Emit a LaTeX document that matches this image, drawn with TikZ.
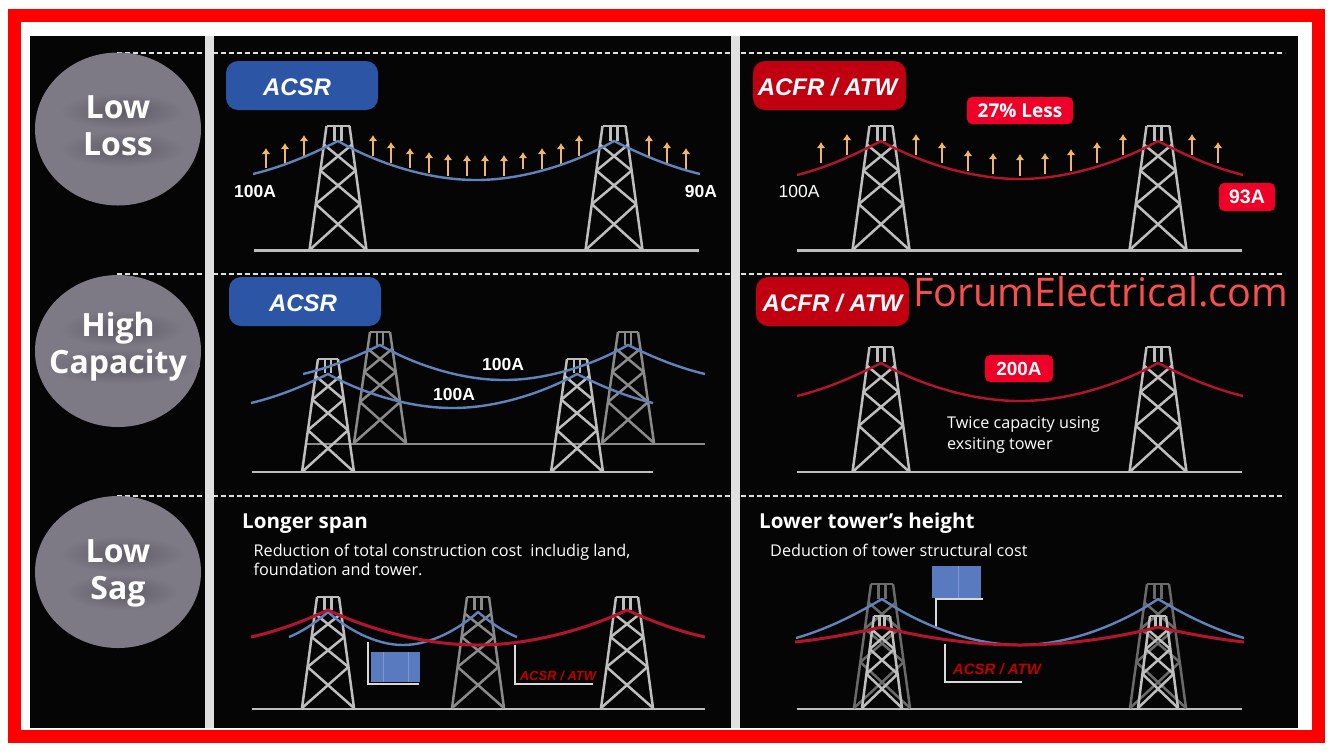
\documentclass[tikz,border=0pt]{standalone}
\usepackage{fontspec}
\setmainfont{Liberation Sans}
\newfontfamily\opensans{Open Sans}
\usetikzlibrary{arrows.meta,shapes.geometric}
\definecolor{bluetag}{HTML}{2C55A5}
\definecolor{redtag}{HTML}{C00010}
\definecolor{hottag}{HTML}{EE0028}
\definecolor{wireblue}{HTML}{6183BC}
\definecolor{wirered}{HTML}{B5142F}
\definecolor{heat}{HTML}{F0B56C}
\definecolor{disc}{HTML}{7D7A85}
\definecolor{discshadow}{HTML}{5E5B66}
\definecolor{steel}{HTML}{BEBEBE}
\definecolor{steeldim}{HTML}{8A8A8A}
\definecolor{steelfaint}{HTML}{6A6A6A}
\definecolor{brand}{HTML}{F8504F}
\definecolor{paneblue}{HTML}{5A7AC0}
\definecolor{panestripe}{HTML}{7F98CF}
\newcommand{\fs}[1]{\fontsize{#1}{#1}\selectfont}
\newcommand{\wirewidth}{2.4pt}
\newcommand{\tagstrut}{\rule{0pt}{20.4pt}}
\tikzset{
  frame dash/.style={draw=white!88!black,line width=1.6pt,dash pattern=on 5pt off 3pt},
  divider/.style={fill=white!88!black},
  disc node/.style={ellipse,fill=disc},
  disc text/.style={inner sep=0pt,align=center,text=white,font=\opensans\bfseries\fontsize{32}{37}\selectfont},
  tagbox/.style={rounded corners=12pt,minimum height=49pt,inner sep=0pt,text=white,font=\bfseries\itshape\fs{24}},
  acsr tag/.style={tagbox,fill=bluetag,minimum width=152pt},
  acfr tag/.style={tagbox,fill=redtag,minimum width=153pt},
  hot tag/.style={rounded corners=5pt,fill=hottag,inner sep=0pt,text=white},
  amp/.style={inner sep=0pt,text=white,font=\fs{17.5}},
  amp strong/.style={amp,font=\bfseries\fs{17.5}},
  heading/.style={inner sep=0pt,anchor=base west,text=white,font=\opensans\bfseries\fs{20.6}},
  body/.style={inner sep=0pt,anchor=base west,text=white,font=\opensans\fs{16.2}},
  conductor/.style={inner sep=0pt,text=red!75!black,font=\bfseries\itshape\fs{13}},
  leader/.style={draw=white!85!black,line width=1.5pt},
  ground/.style={line width=2.6pt},
  heatarrow/.style={draw=heat,line width=2.6pt,-{Latex[length=6pt,width=8.5pt]}},
}
% soft shadow under a word: cx, cy, half width
\newcommand{\softshade}[3]{\shade[inner color=discshadow,outer color=disc] (#1,#2) ellipse ({#3} and 18);}
% tower: cx, base y, top y, half base, half top, colour
\newcommand{\towr}[6]{%
  \begin{scope}[draw=#6,line width=2.5pt,line join=round]
    \pgfmathsetmacro{\hh}{#2-#3}
    \pgfmathsetmacro{\dd}{#4-#5}
    \draw ({#1-#5},#3) -- ({#1+#5},#3);
    \draw ({#1-#5},#3) -- ({#1-#4},#2);
    \draw ({#1+#5},#3) -- ({#1+#4},#2);
    \draw ({#1-#5*0.3},#3) -- ({#1-#5*0.3},{#3+\hh*0.12});
    \draw ({#1+#5*0.3},#3) -- ({#1+#5*0.3},{#3+\hh*0.12});
    \foreach \fa/\fb in {0.15/0.36,0.36/0.63,0.63/1}{
      \draw ({#1-#5-\dd*\fa},{#3+\hh*\fa}) -- ({#1+#5+\dd*\fb},{#3+\hh*\fb});
      \draw ({#1+#5+\dd*\fa},{#3+\hh*\fa}) -- ({#1-#5-\dd*\fb},{#3+\hh*\fb});
    }
  \end{scope}}
% wire: colour, x start, y start, x peak 1, y peak, x peak 2, y trough, x end
\newcommand{\wirelink}[8]{%
  \pgfmathsetmacro{\dl}{#4-#2}
  \pgfmathsetmacro{\rs}{#3-#5}
  \pgfmathsetmacro{\hs}{(#6-#4)/2}
  \pgfmathsetmacro{\ds}{#7-#5}
  \pgfmathsetmacro{\dr}{#8-#6}
  \draw[draw=#1,line width=\wirewidth,line join=round]
    (#2,#3) .. controls ({#2+\dl*0.43},{#3-\rs*0.27}) and ({#4-\dl*0.21},{#5+\rs*0.27}) .. (#4,#5)
    .. controls ({#4+\hs*0.24},{#5+\ds*0.49}) and ({#4+\hs*0.62},#7) .. ({#4+\hs},#7)
    .. controls ({#6-\hs*0.62},#7) and ({#6-\hs*0.24},{#5+\ds*0.49}) .. (#6,#5)
    .. controls ({#6+\dr*0.21},{#5+\rs*0.27}) and ({#8-\dr*0.43},{#3-\rs*0.27}) .. (#8,#3);}
\begin{document}
\begin{tikzpicture}[x=1pt,y=-1pt]
\useasboundingbox (0,0) rectangle (1332,753);
\fill[white] (0,0) rectangle (1332,753);
\fill[red] (8,9) rectangle (1325,743);
\fill[white] (21,22) rectangle (1312,730);
\fill[black!98!white] (30,36) rectangle (1298,728);
% row separators
\coordinate (d1a) at (117,53);  \coordinate (d1b) at (1285,53);
\coordinate (d2a) at (117,274); \coordinate (d2b) at (1285,274);
\coordinate (d3a) at (117,496); \coordinate (d3b) at (1285,496);
\draw[frame dash] (d1a) -- (d1b);
\draw[frame dash] (d2a) -- (d2b);
\draw[frame dash] (d3a) -- (d3b);
\fill[divider] (205,36) rectangle (214,728);
\fill[divider] (731,36) rectangle (740,728);
% discs
\node[disc node,minimum width=166pt,minimum height=153pt,inner sep=0pt] (discA) at (118,129) {};
\node[disc node,minimum width=166pt,minimum height=152pt,inner sep=0pt] (discB) at (118,351) {};
\node[disc node,minimum width=166pt,minimum height=152pt,inner sep=0pt] (discC) at (118,572) {};
\softshade{122}{111}{62}
\softshade{122}{149}{62}
\softshade{122}{329}{62}
\softshade{122}{366}{78}
\softshade{122}{554}{62}
\softshade{122}{592}{56}
\node[disc text] (tA) at (118,126) {Low\\Loss};
\node[disc text] (tB) at (118,347) {High\\Capacity};
\node[disc text] (tC) at (118,573) {Low\\Sag};
% tags
\node[acsr tag] (acsrA) at (302,85.5) {\tagstrut ACSR\hspace*{10pt}};
\node[acsr tag] (acsrB) at (305,301.5) {\tagstrut ACSR\hspace*{4pt}};
\node[acfr tag] (acfrA) at (829.5,85.5) {\tagstrut ACFR / ATW\hspace*{4pt}};
\node[acfr tag] (acfrB) at (832.5,301.5) {\tagstrut ACFR / ATW};
% ---------- row 1 left
\draw[steel,ground] (254,250.5) -- (699,250.5);
\towr{338}{250}{126}{28.5}{11.5}{steel}
\towr{614}{250}{126}{28.5}{11.5}{steel}
\foreach \x/\a/\b in {266/168/148,285/163/143,304/156/135,373/156/135,391/163/142,410/168/148,429/173/152,448/176/154,467/176/155,485/176/155,504/176/155,523/169/152,542/169/148,561/164/143,579/156/135,649/156/135,667/163/142,686/169/148}
  \draw[heatarrow] (\x,\a) -- (\x,\b);
\wirelink{wireblue}{253}{174}{338}{141}{614}{180}{700}
\node[amp strong] (la) at (255,191) {100A};
\node[amp strong] (lb) at (701,191) {90A};
% ---------- row 1 right
\draw[steel,ground] (797,250.5) -- (1242,250.5);
\towr{881}{250}{126}{28.5}{11.5}{steel}
\towr{1158}{250}{126}{28.5}{11.5}{steel}
\foreach \x/\a/\b in {821/163/142,847/155/134,916/155/134,942/163/142,968/171/150,993/174/153,1020/176/154,1045/174/153,1071/171/149,1097/163/142,1123/155/134,1192/155/134,1218/163/142}
  \draw[heatarrow] (\x,\a) -- (\x,\b);
\wirelink{wirered}{797}{175}{881}{141}{1158}{179}{1243}
\node[amp] (lc) at (799,191) {100A};
\node[hot tag,minimum width=106pt,minimum height=27pt,font=\opensans\bfseries\fs{19}] (less) at (1020,110.5) {27\% Less};
\node[hot tag,minimum width=56pt,minimum height=28pt,font=\bfseries\fs{19.5}] (ninety) at (1247,197) {93A};
% ---------- row 2 left
\draw[steeldim,line width=2.2pt] (305,444) -- (705,444);
\towr{380}{443}{332}{26}{10}{steeldim}
\towr{628}{443}{332}{26}{10}{steeldim}
\draw[steel,line width=2pt] (252,472) -- (653,472);
\towr{328}{472}{359}{26}{10}{steel}
\towr{577}{472}{359}{26}{10}{steel}
\wirelink{wireblue}{303}{374}{380}{345}{628}{380}{705}
\wirelink{wireblue}{251}{403}{328}{374}{577}{408}{653}
\node[amp strong] (ld) at (503,364) {100A};
\node[amp strong] (le) at (454,394) {100A};
% ---------- row 2 right
\draw[steel,line width=2pt] (797,472) -- (1242,472);
\towr{881}{472}{347}{28.5}{11.5}{steel}
\towr{1158}{472}{347}{28.5}{11.5}{steel}
\wirelink{wirered}{797}{396}{881}{363}{1158}{401}{1243}
\node[hot tag,minimum width=68pt,minimum height=27pt,font=\bfseries\fs{19}] (twohundred) at (1019,368.5) {200A};
\node[body] (twiceA) at (947,428) {Twice capacity using};
\node[body] (twiceB) at (947,449) {exsiting tower};
% ---------- row 3 left
\node[heading] (longer) at (242,528) {Longer span};
\node[body] (redA) at (253.5,556) {Reduction of total construction cost\ \ includig land,};
\node[body] (redB) at (253.5,575) {foundation and tower.};
\draw[steel,ground] (252,709) -- (705,709);
\towr{328}{708}{597}{26}{11}{steel}
\towr{478}{708}{597}{26}{11}{steeldim}
\towr{627}{708}{597}{26}{11}{steel}
\coordinate (p1) at (368,642); \coordinate (p2) at (419,684);
\draw[leader] (p1) |- (p2);
\node[fill=paneblue,minimum width=49pt,minimum height=30pt,inner sep=0pt] (paneA) at (395.5,667) {};
\draw[panestripe,line width=0.8pt] (383,652) -- (383,682);
\draw[panestripe,line width=0.8pt] (408,652) -- (408,682);
\coordinate (q1) at (515,645); \coordinate (q2) at (593,684);
\draw[leader] (q1) |- (q2);
\node[conductor] (condA) at (558,676) {ACSR / ATW};
\wirelink{wireblue}{289}{637}{328}{612}{478}{645}{517}
\renewcommand{\wirewidth}{3pt}
\wirelink{wirered}{251}{637}{328}{610}{627}{645}{705}
% ---------- row 3 right
\node[heading] (lower) at (759,528) {Lower tower’s height};
\node[body] (deduct) at (770,556) {Deduction of tower structural cost};
\draw[steel,ground] (797,709) -- (1242,709);
\towr{882}{708}{584}{28}{11}{steelfaint}
\towr{1158}{708}{584}{28}{11}{steelfaint}
\towr{882}{708}{616}{20}{8}{steel}
\towr{1158}{708}{616}{20}{8}{steel}
\coordinate (r1) at (936,627); \coordinate (r2) at (983,599);
\draw[leader] (r1) |- (r2);
\node[fill=paneblue,minimum width=49pt,minimum height=32pt,inner sep=0pt] (paneB) at (956.5,582) {};
\draw[panestripe,line width=0.8pt] (958,566) -- (958,598);
\coordinate (s1) at (945,644); \coordinate (s2) at (1022,682);
\draw[leader] (s1) |- (s2);
\node[conductor,font=\bfseries\itshape\fs{15}] (condB) at (997,669) {ACSR / ATW};
\renewcommand{\wirewidth}{2.4pt}
\wirelink{wireblue}{796}{638}{882}{599}{1158}{645}{1244}
\renewcommand{\wirewidth}{3pt}
\wirelink{wirered}{795}{642}{882}{627}{1158}{645}{1244}
% ---------- watermark
\node[inner sep=0pt,anchor=base west,text=brand,font=\opensans\fs{39.5}] (brand) at (913,306) {ForumElectrical.com};
\end{tikzpicture}
\end{document}
